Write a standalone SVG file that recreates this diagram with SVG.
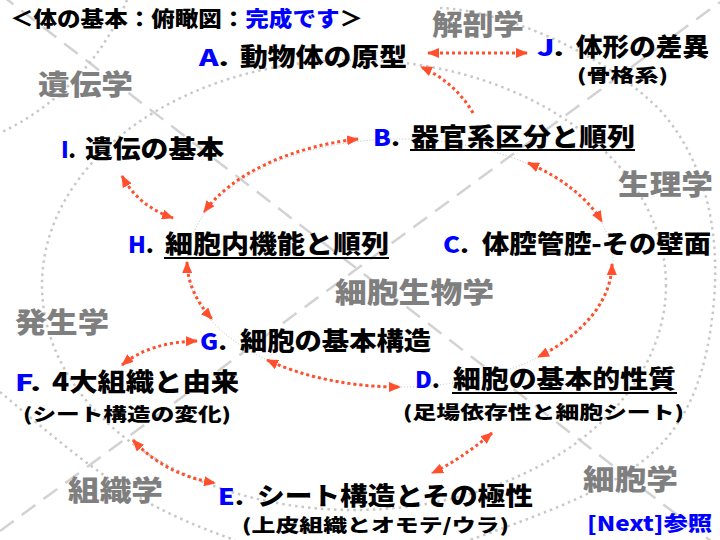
<svg xmlns="http://www.w3.org/2000/svg" width="720" height="540" viewBox="0 0 720 540">
<defs>
<style>
.bg{fill:none;stroke:#c8c8c8;stroke-width:2.5;stroke-dasharray:2.5 4}
.dash{fill:none;stroke:#d2d2d2;stroke-width:2.5;stroke-dasharray:17 10}
.ring{fill:none;stroke:#bdbdbd;stroke-width:1;stroke-dasharray:1 2}
.arr{fill:none;stroke:#ff4f2c;stroke-width:3;stroke-dasharray:3 3}
.t{font-family:"Noto Sans CJK JP","Noto Sans",sans-serif;font-weight:900}
.k{font-size:25px;fill:#000}
.s{font-size:18px;fill:#000}
.l{font-size:22px;fill:#0000ff}
.g{font-size:28px;fill:#7f7f7f}
.u{stroke:#000;stroke-width:2}
</style>
<marker id="ah" viewBox="0 0 12 10" refX="11" refY="5" markerWidth="12" markerHeight="10" markerUnits="userSpaceOnUse" orient="auto-start-reverse">
<path d="M0,0 L12,5 L0,10 z" fill="#ff4f2c"/>
</marker>
</defs>
<rect width="720" height="540" fill="#fff"/>
<g id="background">
<path class="dash" d="M0,-6 L720,548"/>
<path class="dash" d="M0,531 L720,2"/>
<path class="bg" d="M127,0 A255,255 0 0 1 0,133"/>
<ellipse class="bg" cx="354" cy="285" rx="312" ry="225"/>
<path class="bg" d="M440,8 C500,10 600,50 660,110 C705,160 720,230 714,300 C708,370 690,420 650,455 C610,490 540,515 470,540"/>
<path class="bg" d="M0,392 C40,425 90,470 140,498 C170,515 200,528 235,540"/>
<ellipse class="ring" cx="400" cy="263" rx="213" ry="124"/>
</g>
<g id="labels-fields" class="t g">
<text x="38" y="95" textLength="95" lengthAdjust="spacingAndGlyphs">遺伝学</text>
<text x="432" y="35" textLength="92" lengthAdjust="spacingAndGlyphs">解剖学</text>
<text x="618" y="195" textLength="95" lengthAdjust="spacingAndGlyphs">生理学</text>
<text x="335" y="303" textLength="159" lengthAdjust="spacingAndGlyphs">細胞生物学</text>
<text x="15" y="333" textLength="94" lengthAdjust="spacingAndGlyphs">発生学</text>
<text x="68" y="501" textLength="95" lengthAdjust="spacingAndGlyphs">組織学</text>
<text x="583" y="490" textLength="95" lengthAdjust="spacingAndGlyphs">細胞学</text>
</g>
<g id="connectors">
<path class="arr" d="M428,53 L527,53" marker-start="url(#ah)" marker-end="url(#ah)"/>
<path class="arr" d="M473,113 Q455,82 421,67" marker-end="url(#ah)"/>
<path class="arr" d="M358,139 A213,124 0 0 0 204,212" marker-start="url(#ah)" marker-end="url(#ah)"/>
<path class="arr" d="M122,176 Q138,206 173,218" marker-start="url(#ah)" marker-end="url(#ah)"/>
<path class="arr" d="M187,262 A213,124 0 0 0 212,319" marker-start="url(#ah)" marker-end="url(#ah)"/>
<path class="arr" d="M197,341 Q150,342 122,365" marker-start="url(#ah)" marker-end="url(#ah)"/>
<path class="arr" d="M267,360 A213,124 0 0 0 400,387" marker-start="url(#ah)" marker-end="url(#ah)"/>
<path class="arr" d="M528,163 A213,124 0 0 1 602,222" marker-start="url(#ah)" marker-end="url(#ah)"/>
<path class="arr" d="M612,264 A213,124 0 0 1 538,357" marker-start="url(#ah)" marker-end="url(#ah)"/>
<path class="arr" d="M492,433 Q460,460 432,473" marker-start="url(#ah)" marker-end="url(#ah)"/>
<path class="arr" d="M133,440 Q165,475 215,483" marker-start="url(#ah)" marker-end="url(#ah)"/>
</g>
<g id="title" class="t">
<text x="10" y="26" font-size="21" fill="#000" textLength="353" lengthAdjust="spacingAndGlyphs">＜体の基本：俯瞰図：<tspan fill="#0000ff">完成です</tspan>＞</text>
</g>
<g id="nodeA" class="t">
<text class="l" x="199" y="66" textLength="30" lengthAdjust="spacingAndGlyphs">A<tspan fill="#000">.</tspan></text>
<text class="k" x="240" y="66" textLength="167" lengthAdjust="spacingAndGlyphs">動物体の原型</text>
</g>
<g id="nodeJ" class="t">
<text class="l" x="537" y="56" textLength="27" lengthAdjust="spacingAndGlyphs">J<tspan fill="#000">.</tspan></text>
<text class="k" x="576" y="56" textLength="133" lengthAdjust="spacingAndGlyphs">体形の差異</text>
<text class="s" x="577" y="82" textLength="91" lengthAdjust="spacingAndGlyphs">(骨格系)</text>
</g>
<g id="nodeB" class="t">
<text class="l" x="373" y="146" textLength="27" lengthAdjust="spacingAndGlyphs">B<tspan fill="#000">.</tspan></text>
<text class="k" x="411" y="146" textLength="224" lengthAdjust="spacingAndGlyphs">器官系区分と順列</text>
<line class="u" x1="410" y1="150" x2="635" y2="150"/>
</g>
<g id="nodeI" class="t">
<text class="l" x="61" y="158" textLength="15" lengthAdjust="spacing">I<tspan fill="#000">.</tspan></text>
<text class="k" x="85" y="158" textLength="139" lengthAdjust="spacingAndGlyphs">遺伝の基本</text>
</g>
<g id="nodeH" class="t">
<text class="l" x="128" y="253" textLength="26" lengthAdjust="spacingAndGlyphs">H<tspan fill="#000">.</tspan></text>
<text class="k" x="165" y="253" textLength="224" lengthAdjust="spacingAndGlyphs">細胞内機能と順列</text>
<line class="u" x1="164" y1="258" x2="389" y2="258"/>
</g>
<g id="nodeC" class="t">
<text class="l" x="443" y="253" textLength="26" lengthAdjust="spacingAndGlyphs">C<tspan fill="#000">.</tspan></text>
<text class="k" x="482" y="253" textLength="229" lengthAdjust="spacingAndGlyphs">体腔管腔-その壁面</text>
</g>
<g id="nodeG" class="t">
<text class="l" x="200" y="350" textLength="27" lengthAdjust="spacingAndGlyphs">G<tspan fill="#000">.</tspan></text>
<text class="k" x="240" y="350" textLength="191" lengthAdjust="spacingAndGlyphs">細胞の基本構造</text>
</g>
<g id="nodeF" class="t">
<text class="l" x="15" y="391" textLength="26" lengthAdjust="spacingAndGlyphs">F<tspan fill="#000">.</tspan></text>
<text class="k" x="52" y="391" textLength="187" lengthAdjust="spacingAndGlyphs">4大組織と由来</text>
<text class="s" x="23" y="421" textLength="208" lengthAdjust="spacingAndGlyphs">(シート構造の変化)</text>
</g>
<g id="nodeD" class="t">
<text class="l" x="415" y="388" textLength="25" lengthAdjust="spacingAndGlyphs">D<tspan fill="#000">.</tspan></text>
<text class="k" x="453" y="388" textLength="223" lengthAdjust="spacingAndGlyphs">細胞の基本的性質</text>
<line class="u" x1="452" y1="393" x2="677" y2="393"/>
<text class="s" x="403" y="419" textLength="281" lengthAdjust="spacingAndGlyphs">(足場依存性と細胞シート)</text>
</g>
<g id="nodeE" class="t">
<text class="l" x="218" y="505" textLength="26" lengthAdjust="spacingAndGlyphs">E<tspan fill="#000">.</tspan></text>
<text class="k" x="257" y="505" textLength="276" lengthAdjust="spacingAndGlyphs">シート構造とその極性</text>
<text class="s" x="242" y="532" textLength="267" lengthAdjust="spacingAndGlyphs">(上皮組織とオモテ/ウラ)</text>
</g>
<g id="next" class="t">
<text x="587" y="531" font-size="20" fill="#0000ff" textLength="125" lengthAdjust="spacingAndGlyphs">[Next]参照</text>
</g>
</svg>
